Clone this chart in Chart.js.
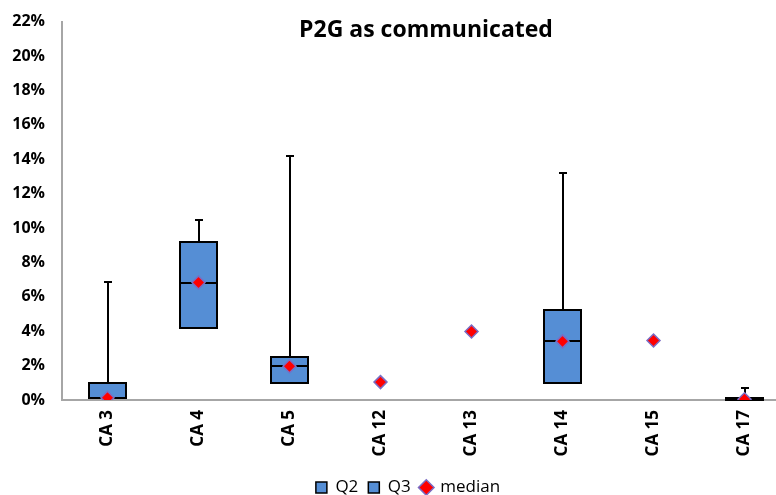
<!DOCTYPE html>
<html>
<head>
<meta charset="utf-8">
<script src="https://cdn.jsdelivr.net/npm/chart.js@4"></script>
<style>
  body { margin: 0; overflow: hidden; background: #fff; }
  #wrap { width: 816px; height: 495px; }
</style>
</head>
<body>
<div id="wrap"><canvas id="myChart" width="816" height="495"></canvas></div>
<script>
var categories = ['CA 3', 'CA 4', 'CA 5', 'CA 12', 'CA 13', 'CA 14', 'CA 15', 'CA 17'];
var q1Values = [0.13, 4.21, 1.0, null, null, 1.0, null, 0.0];
var medianValues = [0.13, 6.83, 1.96, 1.04, 3.98, 3.41, 3.46, 0.04];
var q3Values = [0.98, 9.18, 2.5, null, null, 5.24, null, 0.13];
var maxValues = [6.87, 10.47, 14.2, null, null, 13.18, null, 0.67];
var yTicks = [0, 2, 4, 6, 8, 10, 12, 14, 16, 18, 20, 22];

var boxBlue = '#558ed5';
var fontName = '"Open Sans", sans-serif';

// lower half of the box: Q1 -> median
var q2Data = categories.map(function (c, i) {
  return q1Values[i] == null ? null : [q1Values[i], medianValues[i]];
});
// upper half: median -> Q3
var q3Data = categories.map(function (c, i) {
  return q3Values[i] == null ? null : [medianValues[i], q3Values[i]];
});

// whiskers from Q3 up to the max
var whiskers = {
  id: 'whiskers',
  beforeDatasetsDraw: function (chart) {
    var ctx = chart.ctx;
    var xs = chart.scales.x, ys = chart.scales.y;
    ctx.save();
    ctx.strokeStyle = '#000';
    ctx.lineWidth = 2;
    maxValues.forEach(function (m, i) {
      if (m == null) return;
      var x = Math.round(xs.getPixelForValue(i));
      var top = Math.round(ys.getPixelForValue(m));
      var bot = ys.getPixelForValue(q3Values[i]);
      ctx.beginPath();
      ctx.moveTo(x, bot);
      ctx.lineTo(x, top);
      ctx.moveTo(x - 4, top);
      ctx.lineTo(x + 4, top);
      ctx.stroke();
    });
    ctx.restore();
  }
};

// black outline of each box plus the median line, drawn after the Q2 bars
var boxOutline = {
  id: 'boxOutline',
  afterDatasetDraw: function (chart, args) {
    if (args.index !== 0) return;
    var ctx = chart.ctx;
    var ys = chart.scales.y;
    ctx.save();
    ctx.strokeStyle = '#000';
    ctx.lineWidth = 2;
    args.meta.data.forEach(function (bar, i) {
      if (q1Values[i] == null) return;
      var left = Math.round(bar.x - bar.width / 2);
      var right = Math.round(bar.x + bar.width / 2);
      var top = Math.round(ys.getPixelForValue(q3Values[i]));
      var bottom = Math.round(ys.getPixelForValue(q1Values[i]));
      var mid = Math.round(ys.getPixelForValue(medianValues[i]));
      ctx.strokeRect(left, top, right - left, bottom - top);
      ctx.beginPath();
      ctx.moveTo(left, mid);
      ctx.lineTo(right, mid);
      ctx.stroke();
    });
    ctx.restore();
  }
};

new Chart('myChart', {
  data: {
    labels: categories,
    datasets: [
      {
        type: 'bar',
        label: 'Q2',
        data: q2Data,
        backgroundColor: boxBlue,
        borderWidth: 0,
        pointStyle: 'rect',
        order: 1
      },
      {
        type: 'bar',
        label: 'Q3',
        data: q3Data,
        backgroundColor: boxBlue,
        borderWidth: 0,
        pointStyle: 'rect',
        order: 1
      },
      {
        type: 'line',
        label: 'median',
        data: medianValues,
        showLine: false,
        pointStyle: 'rectRot',
        pointRadius: 6.5,
        pointHoverRadius: 6.5,
        backgroundColor: '#ff0000',
        borderColor: '#7a6cc4',
        pointBorderWidth: 1.5,
        order: 0
      }
    ]
  },
  options: {
    responsive: false,
    animation: false,
    categoryPercentage: 0.8,
    barPercentage: 0.5,
    layout: { padding: { left: 0, right: 0, top: 0, bottom: -11 } },
    plugins: {
      title: {
        display: true,
        text: 'P2G as communicated',
        color: '#000',
        fullSize: false,
        font: { family: fontName, size: 23, weight: 'bold' },
        padding: { top: 17, bottom: -23 }
      },
      legend: {
        position: 'bottom',
        labels: {
          usePointStyle: true,
          boxWidth: 11,
          boxHeight: 11,
          color: '#000',
          font: { family: fontName, size: 17 },
          padding: 10,
          generateLabels: function (chart) {
            var items = Chart.defaults.plugins.legend.labels.generateLabels(chart);
            items.forEach(function (it) {
              if (it.datasetIndex < 2) {
                it.lineWidth = 1.5;
                it.strokeStyle = '#000';
              }
            });
            return items.sort(function (a, b) { return a.datasetIndex - b.datasetIndex; });
          }
        }
      },
      tooltip: { enabled: false }
    },
    scales: {
      x: {
        stacked: true,
        grid: { display: false, drawTicks: false },
        border: { color: '#a6a6a6', width: 2 },
        afterFit: function (s) { s.height = 69; },
        ticks: {
          color: '#000',
          minRotation: 90,
          maxRotation: 90,
          padding: 10,
          font: { family: fontName, size: 17, weight: 'bold' }
        }
      },
      y: {
        min: 0,
        max: 22,
        afterFit: function (s) {
          s.width = 62;
          s.paddingTop = 0;
          s.paddingBottom = 0;
        },
        afterBuildTicks: function (s) {
          s.ticks = yTicks.map(function (v) { return { value: v }; });
        },
        grid: { display: false, drawTicks: false },
        border: { color: '#a6a6a6', width: 2 },
        ticks: {
          color: '#000',
          padding: 17,
          font: { family: fontName, size: 16, weight: 'bold' },
          callback: function (v) { return v + '%'; }
        }
      },
      // empty right-hand gutter so the plot ends where the original did
      gutter: {
        position: 'right',
        grid: { display: false, drawTicks: false },
        border: { display: false },
        ticks: { display: false },
        afterFit: function (s) {
          s.width = 26;
          s.paddingTop = 0;
          s.paddingBottom = 0;
        }
      }
    }
  },
  plugins: [whiskers, boxOutline]
});
</script>
</body>
</html>
